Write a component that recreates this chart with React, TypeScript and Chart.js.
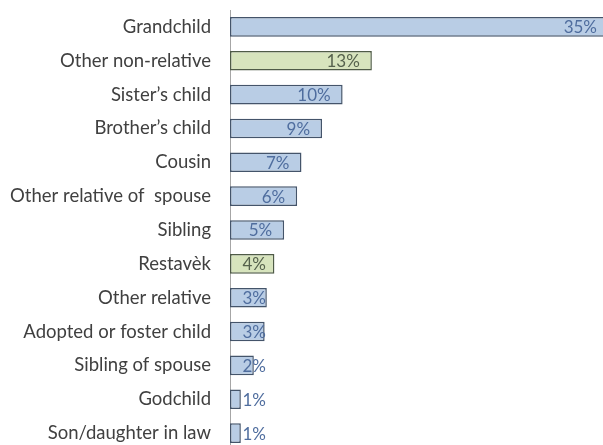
import React, { useEffect, useRef } from "react";
import { Chart, registerables } from "chart.js";

Chart.register(...registerables);

const categories = [
  "Grandchild",
  "Other non-relative",
  "Sister\u2019s child",
  "Brother\u2019s child",
  "Cousin",
  "Other relative of  spouse",
  "Sibling",
  "Restav\u00e8k",
  "Other relative",
  "Adopted or foster child",
  "Sibling of spouse",
  "Godchild",
  "Son/daughter in law",
];

const values = [35, 13.1, 10.4, 8.5, 6.6, 6.2, 5.0, 4.1, 3.4, 3.2, 2.2, 1.0, 1.0];
const isNonRelative = [false, true, false, false, false, false, false, true, false, false, false, false, false];

const BLUE_FILL = "#b9cde5";
const BLUE_BORDER = "#44546a";
const GREEN_FILL = "#d7e4bd";
const GREEN_BORDER = "#4f5b47";
const BLUE_LABEL = "#4f6d9e";
const GREEN_LABEL = "#56624d";

const labelPlugin = {
  id: "barLabels",
  afterDatasetsDraw(chart: any) {
    const ctx = chart.ctx;
    const meta = chart.getDatasetMeta(0);
    const xScale = chart.scales.x;
    ctx.save();
    ctx.font = "17px Lato";
    ctx.textAlign = "right";
    ctx.textBaseline = "middle";
    meta.data.forEach((bar: any, i: number) => {
      const txt = Math.round(values[i]) + "%";
      const right = Math.max(bar.x - 12, xScale.left + 36);
      ctx.fillStyle = isNonRelative[i] ? GREEN_LABEL : BLUE_LABEL;
      ctx.fillText(txt, right, bar.y + 1);
    });
    ctx.restore();
  },
};

export default function App() {
  const ref = useRef<HTMLCanvasElement>(null);
  useEffect(() => {
    document.body.style.margin = "0";
    document.body.style.overflow = "hidden";
    const chart = new Chart(ref.current!, {
      type: "bar",
      data: {
        labels: categories,
        datasets: [
          {
            data: values,
            backgroundColor: isNonRelative.map((g) => (g ? GREEN_FILL : BLUE_FILL)),
            borderColor: isNonRelative.map((g) => (g ? GREEN_BORDER : BLUE_BORDER)),
            borderWidth: 1.5,
            borderSkipped: false,
            categoryPercentage: 1,
            barPercentage: 0.58,
          },
        ],
      },
      options: {
        indexAxis: "y",
        animation: false,
        responsive: false,
        maintainAspectRatio: false,
        layout: { padding: { top: 10, bottom: 5, right: 6, left: 0 } },
        plugins: {
          legend: { display: false },
          tooltip: { enabled: false },
        },
        scales: {
          x: { display: false, min: 0, max: 35 },
          y: {
            afterFit(scale: any) {
              scale.width = 230;
              scale.paddingTop = 0;
              scale.paddingBottom = 0;
            },
            grid: { display: false, drawTicks: false },
            border: { display: true, color: "#a6a6a6", width: 1 },
            ticks: {
              padding: 19,
              color: "#404040",
              font: { family: "Lato", size: 18.5 },
              autoSkip: false,
            },
          },
        },
      },
      plugins: [labelPlugin],
    });
    return () => chart.destroy();
  }, []);
  return (
    <div style={{ position: "fixed", left: 0, top: 0, width: 615, height: 455, background: "#fff" }}>
      <canvas ref={ref} width={615} height={455} style={{ display: "block" }} />
    </div>
  );
}
